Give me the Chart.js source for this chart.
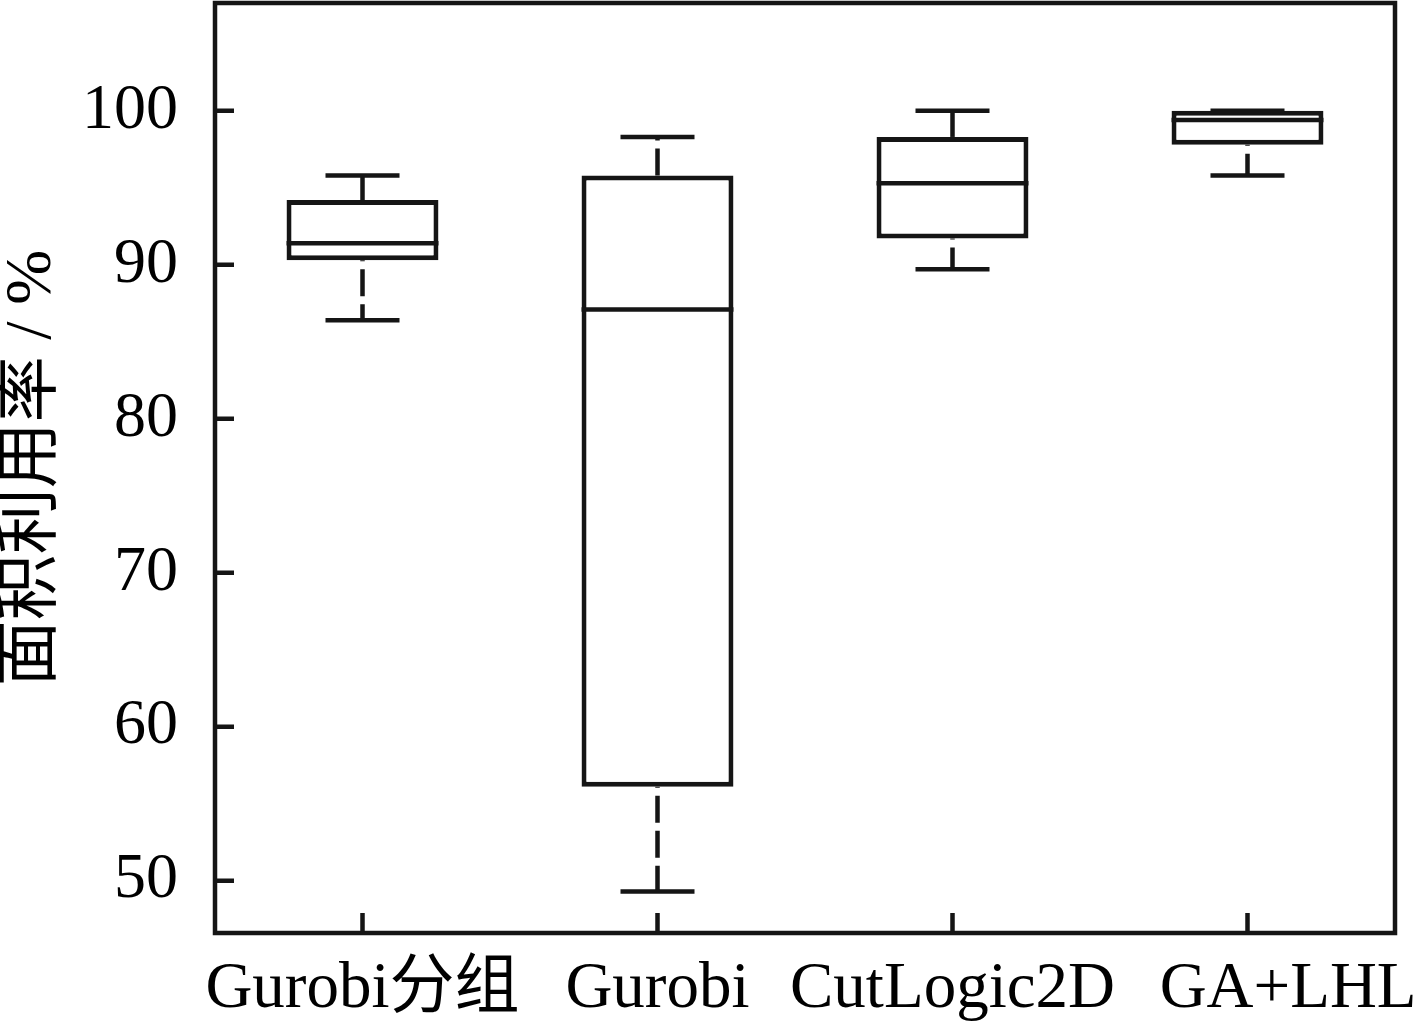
<!DOCTYPE html>
<html>
<head>
<meta charset="utf-8">
<script src="https://cdn.jsdelivr.net/npm/chart.js@4"></script>
<style>
  html, body { margin: 0; padding: 0; background: #fff; }
  #wrap { width: 1420px; height: 1022px; }
</style>
</head>
<body>
<div id="wrap"><canvas id="chart" width="1420" height="1022"></canvas></div>
<script>
const categories = ['Gurobi分组', 'Gurobi', 'CutLogic2D', 'GA+LHL'];
const whiskerLow = [86.4, 49.3, 89.7, 95.8];
const quartile1 = [90.3, 56.1, 91.7, 97.8];
const medians = [91.4, 87.1, 95.3, 99.4];
const quartile3 = [94.2, 95.8, 98.3, 100.0];
const whiskerHigh = [95.8, 98.3, 100.0, 100.0];
const yTicks = [50, 60, 70, 80, 90, 100];

const ink = '#151515';
const fontFamily = "'Liberation Serif', 'Noto Sans CJK SC', serif";

// whiskers, caps, medians, frame and inward ticks
const boxPlotExtras = {
  id: 'boxPlotExtras',
  afterDatasetsDraw(chart) {
    const ctx = chart.ctx;
    const y = chart.scales.y;
    const x = chart.scales.x;
    const meta = chart.getDatasetMeta(0);
    ctx.save();
    ctx.strokeStyle = ink;
    ctx.lineWidth = 4.5;
    ctx.lineCap = 'butt';
    meta.data.forEach((bar, i) => {
      const cx = bar.x;
      const capHalf = 37;
      const yq1 = y.getPixelForValue(quartile1[i]);
      const yq3 = y.getPixelForValue(quartile3[i]);
      const ylo = y.getPixelForValue(whiskerLow[i]);
      const yhi = y.getPixelForValue(whiskerHigh[i]);
      // dashed whiskers
      ctx.setLineDash([27, 8]);
      if (yhi < yq3) {
        ctx.beginPath(); ctx.moveTo(cx, yq3); ctx.lineTo(cx, yhi); ctx.stroke();
      }
      if (ylo > yq1) {
        ctx.lineDashOffset = -9;
        ctx.beginPath(); ctx.moveTo(cx, yq1); ctx.lineTo(cx, ylo); ctx.stroke();
        ctx.lineDashOffset = 0;
      }
      ctx.setLineDash([]);
      // caps
      ctx.beginPath();
      ctx.moveTo(cx - capHalf, yhi); ctx.lineTo(cx + capHalf, yhi);
      ctx.moveTo(cx - capHalf, ylo); ctx.lineTo(cx + capHalf, ylo);
      ctx.stroke();
      // median
      const ym = y.getPixelForValue(medians[i]);
      ctx.beginPath();
      ctx.moveTo(bar.x - bar.width / 2, ym); ctx.lineTo(bar.x + bar.width / 2, ym);
      ctx.stroke();
    });
    // frame
    const a = chart.chartArea;
    ctx.lineWidth = 4.5;
    ctx.strokeRect(a.left, a.top, a.right - a.left, a.bottom - a.top);
    // inward ticks
    ctx.beginPath();
    y.ticks.forEach((t, i) => {
      const py = y.getPixelForTick(i);
      ctx.moveTo(a.left, py); ctx.lineTo(a.left + 19, py);
    });
    x.ticks.forEach((t, i) => {
      const px = x.getPixelForTick(i);
      ctx.moveTo(px, a.bottom); ctx.lineTo(px, a.bottom - 20);
    });
    ctx.stroke();
    ctx.restore();
  }
};

new Chart(document.getElementById('chart'), {
  type: 'bar',
  data: {
    labels: categories,
    datasets: [{
      data: categories.map((c, i) => [quartile1[i], quartile3[i]]),
      backgroundColor: '#ffffff',
      borderColor: ink,
      borderWidth: 5,
      borderSkipped: false,
      categoryPercentage: 1,
      barPercentage: 0.515
    }]
  },
  options: {
    responsive: false,
    animation: false,
    layout: { padding: { top: 3, right: 25, left: 0, bottom: 0 } },
    plugins: { legend: { display: false }, tooltip: { enabled: false } },
    scales: {
      x: {
        grid: { display: false, drawTicks: false },
        border: { display: false },
        ticks: {
          color: '#000', padding: 18, maxRotation: 0, autoSkip: false,
          font: { family: fontFamily, size: 65 },
          // last label sits a little right of its tick in the original
          callback(value, index) {
            const label = categories[index];
            return index === categories.length - 1 ? '     ' + label : label;
          }
        },
        afterFit(scale) {
          scale.height = 89;
          scale.paddingLeft = 0; scale.paddingRight = 0;
        }
      },
      y: {
        min: 46.6,
        max: 107,
        grid: { display: false, drawTicks: false },
        border: { display: false },
        afterBuildTicks(scale) { scale.ticks = yTicks.map(v => ({ value: v })); },
        ticks: { color: '#000', padding: 37, font: { family: fontFamily, size: 64 } },
        title: {
          display: true,
          text: '面积利用率 / %',
          color: '#000',
          padding: 0,
          font: { family: fontFamily, size: 66, lineHeight: 1.0 }
        },
        afterFit(scale) {
          scale.width = 215;
          scale.paddingTop = 0; scale.paddingBottom = 0;
        }
      }
    }
  },
  plugins: [boxPlotExtras]
});
</script>
</body>
</html>
